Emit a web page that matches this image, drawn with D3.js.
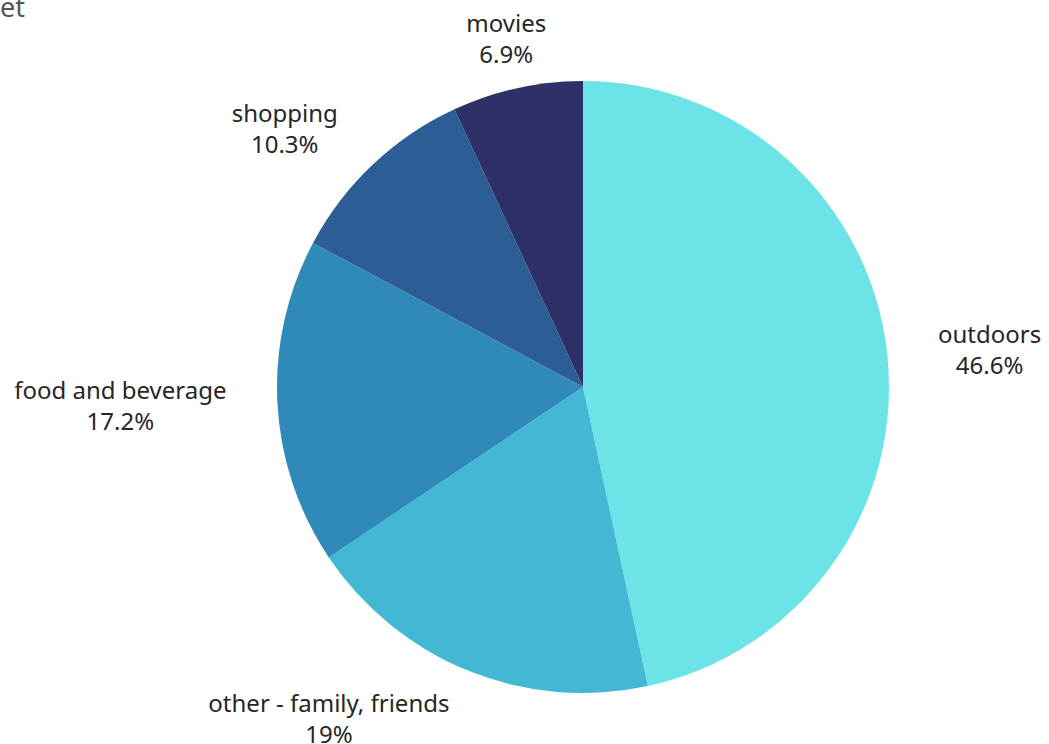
<!DOCTYPE html>
<html>
<head>
<meta charset="utf-8">
<script src="https://cdn.jsdelivr.net/npm/d3@7"></script>
<style>
  html, body { margin: 0; padding: 0; background: #fff; }
  svg { display: block; }
  text { font-family: "Noto Sans", "Open Sans", sans-serif; fill: #262626; }
</style>
</head>
<body>
<svg id="chart" width="1049" height="744"></svg>
<script>
// Share of weekend spending by activity (percent)
const categories = ["outdoors", "other - family, friends", "food and beverage", "shopping", "movies"];
const shares = [46.6, 19, 17.2, 10.3, 6.9];
const shareLabels = ["46.6%", "19%", "17.2%", "10.3%", "6.9%"];
const colors = ["#6ce3e6", "#43b8d5", "#2f8ab9", "#2c5d95", "#2e3168"];

const width = 1049, height = 744;
const cx = 583, cy = 387, radius = 306;
const labelRadius = radius + 51;

const svg = d3.select("#chart");

// Title, partly outside the visible frame
svg.append("text")
  .attr("x", 25).attr("y", 17)
  .attr("text-anchor", "end")
  .style("font-size", "27px")
  .style("fill", "#555")
  .text("Budget");

const data = categories.map((c, i) => ({ category: c, value: shares[i], label: shareLabels[i], color: colors[i] }));

const pie = d3.pie().sort(null).value(d => d.value);
const arc = d3.arc().innerRadius(0).outerRadius(radius);
const arcs = pie(data);

const g = svg.append("g").attr("transform", `translate(${cx},${cy})`);

g.selectAll("path.slice")
  .data(arcs)
  .join("path")
  .attr("class", "slice")
  .attr("d", arc)
  .attr("fill", d => d.data.color);

// Two-line labels outside each slice
g.selectAll("text.label")
  .data(arcs)
  .join("text")
  .attr("class", "label")
  .style("font-size", "24px")
  .each(function(d) {
    const a = (d.startAngle + d.endAngle) / 2;
    const s = Math.sin(a), c = -Math.cos(a);
    const x = s * labelRadius, y = c * labelRadius;
    const anchor = Math.abs(s) < 0.3 ? "middle" : (s > 0 ? "start" : "end");
    const t = d3.select(this).attr("text-anchor", "middle");
    const l1 = t.append("tspan").attr("x", x).attr("y", y - 6).text(d.data.category);
    const l2 = t.append("tspan").attr("x", x).attr("y", y + 25).text(d.data.label);
    if (anchor !== "middle") {
      const w = this.getBBox().width;
      const shift = anchor === "start" ? w / 2 : -w / 2;
      l1.attr("x", x + shift);
      l2.attr("x", x + shift);
    }
  });
</script>
</body>
</html>
